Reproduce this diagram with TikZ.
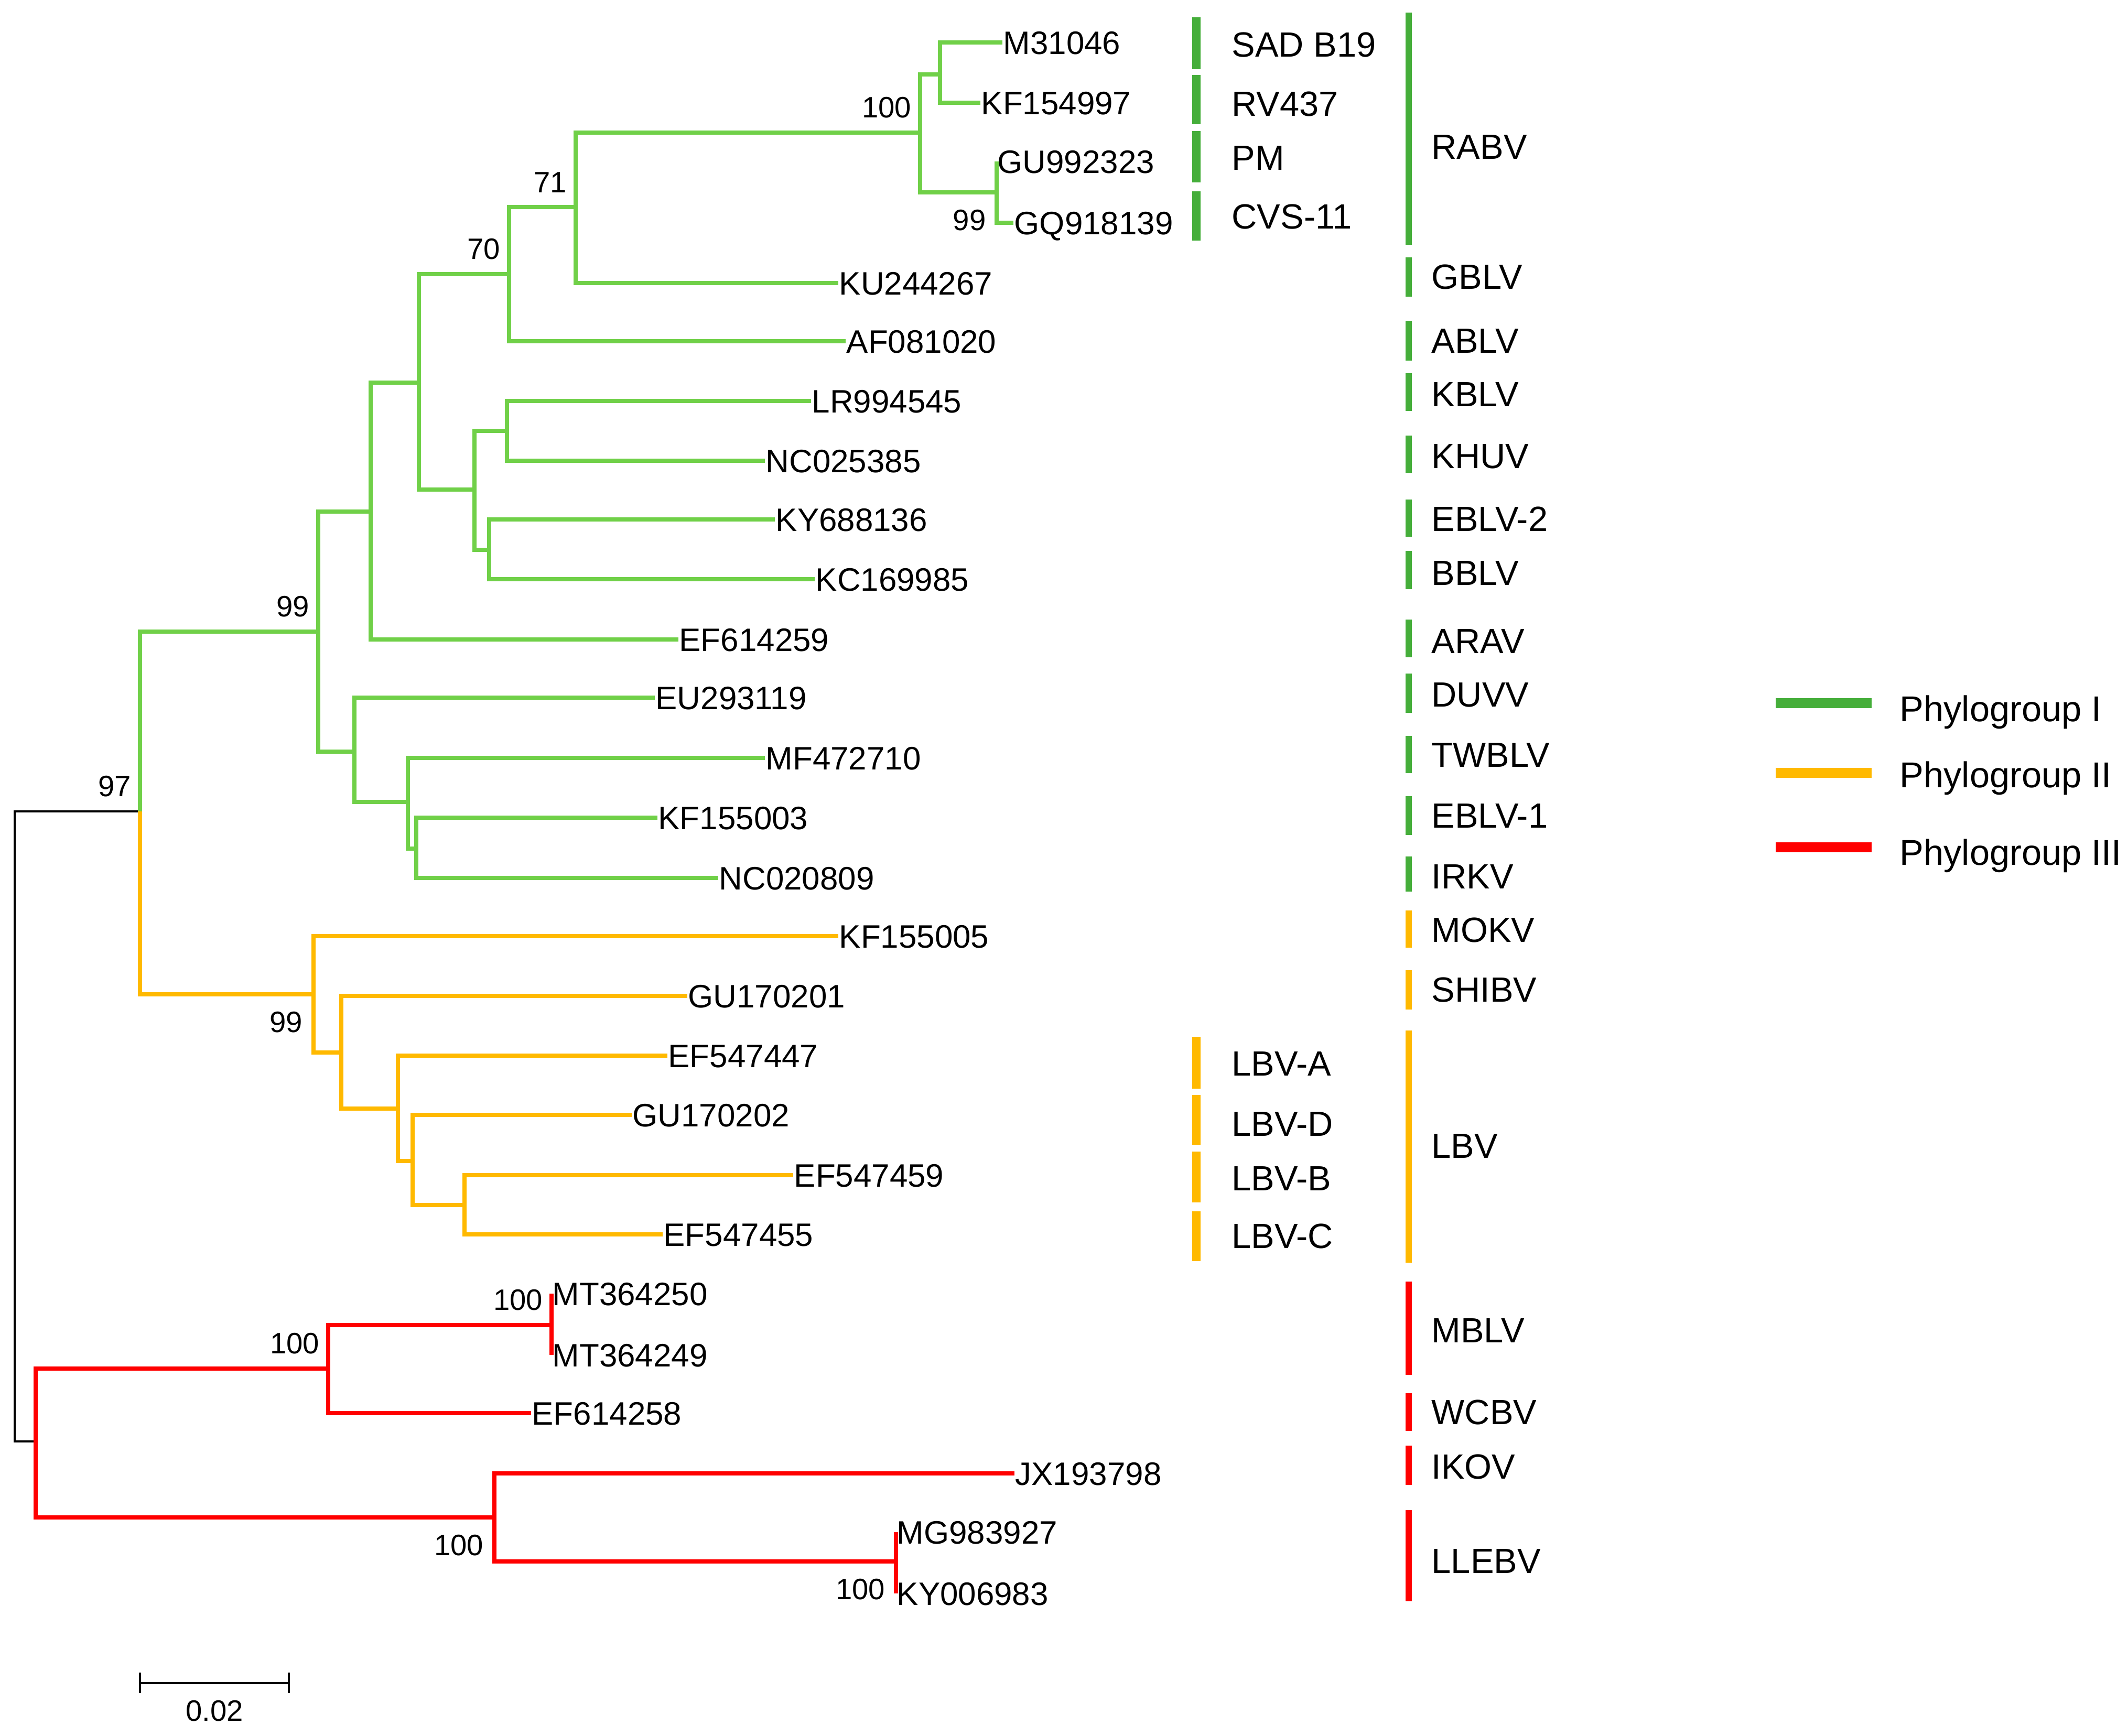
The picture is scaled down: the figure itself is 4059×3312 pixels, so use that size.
\documentclass[tikz,border=0pt]{standalone}
\usepackage{fontspec}
\setmainfont{Liberation Sans}
\usepackage{tikz}

\definecolor{treegreen}{RGB}{112,208,72}
\definecolor{bargreen}{RGB}{69,174,58}
\definecolor{grouporange}{RGB}{255,185,0}
\definecolor{groupred}{RGB}{255,0,0}

\begin{document}
\begin{tikzpicture}[x=0.01cm, y=-0.01cm]
\tikzstyle{branch} = [line width=2.1pt]
\tikzstyle{rootline} = [line width=1.15pt, black]
\tikzstyle{leaflab} = [anchor=west, inner sep=0pt, xshift=0.01cm, text height=12.6pt, text depth=0pt, font=\fontsize{17.6}{20}\selectfont]
\tikzstyle{bootup} = [anchor=south east, inner sep=0pt, xshift=-0.16cm, yshift=0.27cm, font=\fontsize{16}{18}\selectfont]
\tikzstyle{bootdn} = [anchor=north east, inner sep=0pt, xshift=-0.2cm, yshift=-0.31cm, text height=11.5pt, font=\fontsize{16}{18}\selectfont]
\tikzstyle{grplab} = [anchor=west, inner sep=0pt, text height=13.6pt, text depth=0pt, font=\fontsize{19}{22}\selectfont]
\tikzstyle{legline} = [line width=5.4pt]
\tikzstyle{scalebar} = [line width=1.15pt, black]

\useasboundingbox (0,0) rectangle (4059,3312);

    % the internal nodes of the tree
    \coordinate (n_root) at (28,2150);
    \coordinate (n_97) at (267,1548);
    \coordinate (n_99a) at (607,1205);
    \coordinate (n_b) at (707,976);
    \coordinate (n_c) at (799,730);
    \coordinate (n_70) at (971,523);
    \coordinate (n_71) at (1098,395);
    \coordinate (n_100a) at (1755,253);
    \coordinate (n_e) at (1793,142);
    \coordinate (n_99b) at (1901,367);
    \coordinate (n_d) at (905,934);
    \coordinate (n_f) at (967,822);
    \coordinate (n_g) at (933,1049);
    \coordinate (n_h) at (676,1434);
    \coordinate (n_j) at (778,1530);
    \coordinate (n_k) at (794,1619);
    \coordinate (n_99c) at (598,1897);
    \coordinate (n_l) at (651,2008);
    \coordinate (n_m) at (759,2115);
    \coordinate (n_n) at (787,2215);
    \coordinate (n_p) at (886,2299);
    \coordinate (n_red) at (68,2750);
    \coordinate (n_100b) at (626,2611);
    \coordinate (n_100c) at (1052,2528);
    \coordinate (n_100d) at (943,2895);
    \coordinate (n_100e) at (1709,2979);

    % leaves and their labels
    \foreach \name/\x/\y in {M31046/1912/81, KF154997/1870/196, GU992323/1901/308,
        GQ918139/1933/425, KU244267/1599/540, AF081020/1613/651, LR994545/1547/765,
        NC025385/1459/879, KY688136/1478/991, KC169985/1554/1105, EF614259/1294/1220,
        EU293119/1249/1331, MF472710/1459/1446, KF155003/1254/1560, NC020809/1370/1675,
        KF155005/1599/1786, GU170201/1311/1900, EF547447/1273/2014, GU170202/1205/2127,
        EF547459/1513/2242, EF547455/1264/2355, MT364250/1052/2468, MT364249/1052/2585,
        EF614258/1013/2696, JX193798/1935/2811, MG983927/1709/2923, KY006983/1709/3040}
    {
        \coordinate (l_\name) at (\x,\y);
        \node[leaflab] (t_\name) at (l_\name) {\name};
    }

    % branches
    \draw [rootline] (n_root) |- (n_97);
    \draw [rootline] (n_root) |- (n_red);
    \foreach \a/\b in {n_97/n_99a, n_99a/n_b, n_99a/n_h, n_b/n_c, n_b/l_EF614259,
        n_c/n_70, n_c/n_d, n_70/n_71, n_70/l_AF081020, n_71/n_100a, n_71/l_KU244267,
        n_100a/n_e, n_100a/n_99b, n_e/l_M31046, n_e/l_KF154997, n_99b/l_GU992323,
        n_99b/l_GQ918139, n_d/n_f, n_d/n_g, n_f/l_LR994545, n_f/l_NC025385,
        n_g/l_KY688136, n_g/l_KC169985, n_h/l_EU293119, n_h/n_j, n_j/l_MF472710,
        n_j/n_k, n_k/l_KF155003, n_k/l_NC020809}
        \draw [branch, treegreen] (\a) |- (\b);
    \foreach \a/\b in {n_97/n_99c, n_99c/l_KF155005, n_99c/n_l, n_l/l_GU170201, n_l/n_m,
        n_m/l_EF547447, n_m/n_n, n_n/l_GU170202, n_n/n_p, n_p/l_EF547459, n_p/l_EF547455}
        \draw [branch, grouporange] (\a) |- (\b);
    \foreach \a/\b in {n_red/n_100b, n_red/n_100d, n_100b/n_100c, n_100b/l_EF614258,
        n_100c/l_MT364250, n_100c/l_MT364249, n_100d/l_JX193798, n_100d/n_100e,
        n_100e/l_MG983927, n_100e/l_KY006983}
        \draw [branch, groupred] (\a) |- (\b);

    % bootstrap values
    \node [bootup] (b_100a) at (n_100a) {100};
    \node [bootdn] (b_99b) at (n_99b) {99};
    \node [bootup] (b_71) at (n_71) {71};
    \node [bootup] (b_70) at (n_70) {70};
    \node [bootup] (b_99a) at (n_99a) {99};
    \node [bootup] (b_97) at (n_97) {97};
    \node [bootdn] (b_99c) at (n_99c) {99};
    \node [bootup] (b_100c) at (n_100c) {100};
    \node [bootup] (b_100b) at (n_100b) {100};
    \node [bootdn] (b_100d) at (n_100d) {100};
    \node [bootdn] (b_100e) at (n_100e) {100};

    % lineage bars
    \foreach \c/\top/\bot/\ly/\txt [count=\i] in {bargreen/33/132/85/SAD B19,
        bargreen/143/237/198/RV437, bargreen/250/348/301/PM, bargreen/365/459/413/CVS-11,
        grouporange/1978/2077/2029/LBV-A, grouporange/2089/2184/2144/LBV-D,
        grouporange/2197/2294/2248/LBV-B, grouporange/2311/2406/2358/LBV-C}
    {
        \draw [line width=4.3pt, \c] (2282,\top) -- (2282,\bot);
        \node [grplab] (sub_\i) at (2349,\ly) {\txt};
    }
    \foreach \c/\top/\bot/\ly/\txt [count=\i] in {bargreen/24/467/280/RABV,
        bargreen/491/566/528/GBLV, bargreen/612/688/650/ABLV, bargreen/712/784/752/KBLV,
        bargreen/831/902/870/KHUV, bargreen/953/1024/990/EBLV-2, bargreen/1051/1124/1093/BBLV,
        bargreen/1182/1254/1223/ARAV, bargreen/1285/1360/1325/DUVV,
        bargreen/1404/1475/1440/TWBLV, bargreen/1519/1593/1556/EBLV-1,
        bargreen/1634/1701/1672/IRKV, grouporange/1737/1808/1774/MOKV,
        grouporange/1851/1926/1888/SHIBV, grouporange/1966/2409/2186/LBV,
        groupred/2445/2623/2538/MBLV, groupred/2658/2730/2694/WCBV,
        groupred/2758/2833/2798/IKOV, groupred/2881/3055/2978/LLEBV}
    {
        \draw [line width=3.4pt, \c] (2687,\top) -- (2687,\bot);
        \node [grplab] (sp_\i) at (2730,\ly) {\txt};
    }

    % legend
    \foreach \c/\y/\ty/\txt [count=\i] in {bargreen/1341/1352/Phylogroup I,
        grouporange/1474/1478/Phylogroup II, groupred/1616/1626/Phylogroup III}
    {
        \draw [legline, \c] (3387,\y) -- (3570,\y);
        \node [grplab, text height=14pt, font=\fontsize{19.5}{22}\selectfont] (leg_\i) at (3623,\ty) {\txt};
    }

    % scale bar
    \coordinate (sb_left) at (267,3211);
    \coordinate (sb_right) at (551,3211);
    \draw [scalebar] (sb_left) -- (sb_right);
    \draw [scalebar] ([yshift=0.2cm]sb_left) -- ([yshift=-0.19cm]sb_left);
    \draw [scalebar] ([yshift=0.2cm]sb_right) -- ([yshift=-0.19cm]sb_right);
    \node [font=\fontsize{16}{18}\selectfont, inner sep=0pt] (sb_lab) at (409,3264) {0.02};

\end{tikzpicture}
\end{document}
